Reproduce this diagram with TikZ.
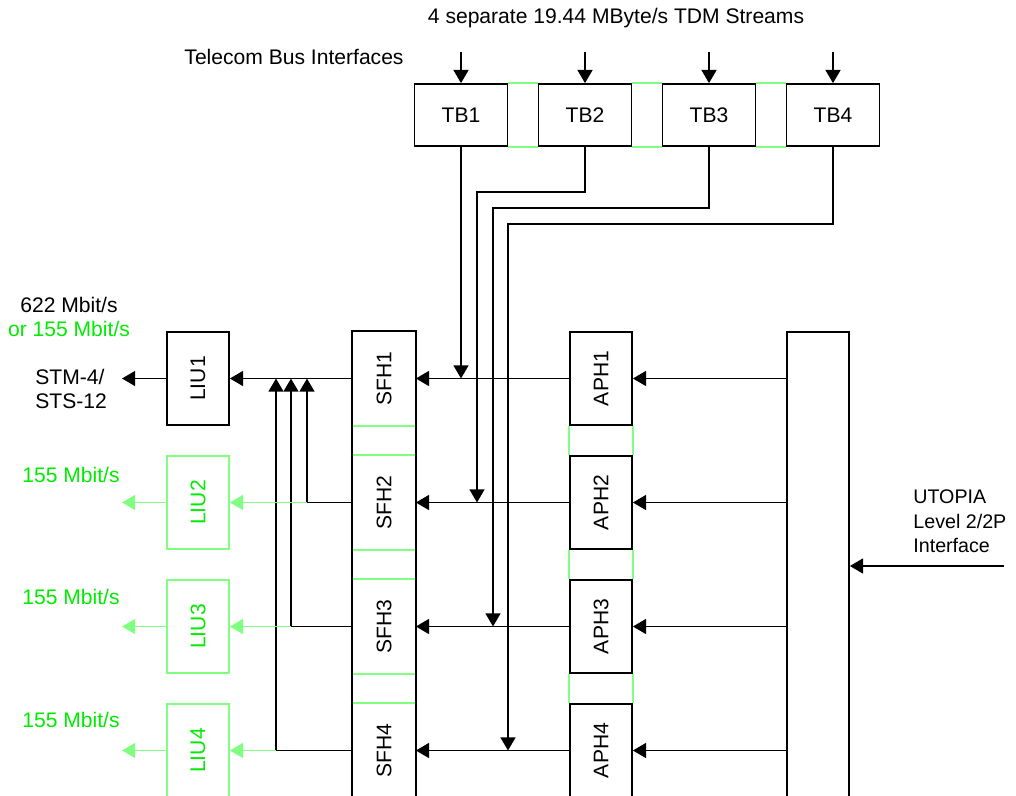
\documentclass[tikz,border=0pt]{standalone}
\usepackage{fontspec}
\setmainfont{Liberation Sans}
\usetikzlibrary{arrows.meta, positioning}
\definecolor{lgreen}{RGB}{128,255,128}
\definecolor{tgreen}{RGB}{0,235,0}

\begin{document}
\begin{tikzpicture}[
			x=0.02cm, y=-0.02cm,
			font=\fontsize{12}{14}\selectfont,
			hbox/.style={
				draw, line width=1pt, inner sep=0pt,
				minimum width=1.86cm, minimum height=1.24cm
			},
			vbox/.style={
				draw, line width=1pt, inner sep=0pt,
				minimum width=1.24cm, minimum height=1.86cm
			},
			gbox/.style={vbox, draw=lgreen, text=tgreen},
			wire/.style={line width=1pt},
			gwire/.style={line width=1pt, draw=lgreen},
			arr/.style={-{Triangle[length=7.5pt, width=8.5pt]}, line width=1pt},
			garr/.style={arr, draw=lgreen, fill=lgreen},
			]
			\useasboundingbox (0,0) rectangle (1016,795);
			
			% ── Telecom bus side ─────────────────────────────────────────────
			\node (streams) at (616, 18) {4 separate 19.44 MByte/s TDM Streams};
			\node (tbi) at (294, 57) {Telecom Bus Interfaces};
			
			\node[hbox] (tb1) at (461, 115) {TB1};
			\node[hbox] (tb2) at (585, 115) {TB2};
			\node[hbox] (tb3) at (709, 115) {TB3};
			\node[hbox] (tb4) at (833, 115) {TB4};
			
			\draw[gwire] (tb1.north east) -- (tb2.north west);
			\draw[gwire] (tb1.south east) -- (tb2.south west);
			\draw[gwire] (tb2.north east) -- (tb3.north west);
			\draw[gwire] (tb2.south east) -- (tb3.south west);
			\draw[gwire] (tb3.north east) -- (tb4.north west);
			\draw[gwire] (tb3.south east) -- (tb4.south west);
			
			\coordinate (in1) at (461, 52);
			\coordinate (in2) at (585, 52);
			\coordinate (in3) at (709, 52);
			\coordinate (in4) at (833, 52);
			\draw[arr] (in1) -- (tb1.north);
			\draw[arr] (in2) -- (tb2.north);
			\draw[arr] (in3) -- (tb3.north);
			\draw[arr] (in4) -- (tb4.north);
			
			% ── SFH column ───────────────────────────────────────────────────
			\node[vbox, draw=none] (sfh1) at (384, 378.5) {\rotatebox{90}{SFH1}};
			\node[vbox, draw=none] (sfh2) at (384, 502.5) {\rotatebox{90}{SFH2}};
			\node[vbox, draw=none] (sfh3) at (384, 626.5) {\rotatebox{90}{SFH3}};
			\node[vbox, draw=none] (sfh4) at (384, 750.5) {\rotatebox{90}{SFH4}};
			
			\draw[gwire] (sfh1.south west) -- (sfh1.south east);
			\draw[gwire] (sfh2.north west) -- (sfh2.north east);
			\draw[gwire] (sfh2.south west) -- (sfh2.south east);
			\draw[gwire] (sfh3.north west) -- (sfh3.north east);
			\draw[gwire] (sfh3.south west) -- (sfh3.south east);
			\draw[gwire] (sfh4.north west) -- (sfh4.north east);
			\draw[wire] (sfh4.south west) -- (sfh1.north west) -- (sfh1.north east) -- (sfh4.south east);
			
			% ── APH column and UTOPIA bus ────────────────────────────────────
			\node[vbox] (aph1) at (601, 378.5) {\rotatebox{90}{APH1}};
			\node[vbox] (aph2) at (601, 502.5) {\rotatebox{90}{APH2}};
			\node[vbox] (aph3) at (601, 626.5) {\rotatebox{90}{APH3}};
			\node[vbox] (aph4) at (601, 750.5) {\rotatebox{90}{APH4}};
			
			\draw[gwire] (aph1.south west) -- (aph2.north west);
			\draw[gwire] (aph1.south east) -- (aph2.north east);
			\draw[gwire] (aph2.south west) -- (aph3.north west);
			\draw[gwire] (aph2.south east) -- (aph3.north east);
			\draw[gwire] (aph3.south west) -- (aph4.north west);
			\draw[gwire] (aph3.south east) -- (aph4.north east);
			
			\node[vbox, minimum height=9.4cm] (bus) at (818, 567) {};
			
			\node[align=left, anchor=west, inner sep=0pt, font=\fontsize{11.2}{14}\selectfont]
			(utopia) at (913, 521.5) {UTOPIA\\Level 2/2P\\Interface};
			\coordinate (uin) at (1004, 566);
			\draw[arr] (uin) -- (uin -| bus.east);
			
			\draw[arr] (bus.west |- aph1.east) -- (aph1.east);
			\draw[arr] (bus.west |- aph2.east) -- (aph2.east);
			\draw[arr] (bus.west |- aph3.east) -- (aph3.east);
			\draw[arr] (bus.west |- aph4.east) -- (aph4.east);
			
			\draw[arr] (aph1.west) -- (sfh1.east);
			\draw[arr] (aph2.west) -- (sfh2.east);
			\draw[arr] (aph3.west) -- (sfh3.east);
			\draw[arr] (aph4.west) -- (sfh4.east);
			
			% ── TB drops onto the SFH lines ──────────────────────────────────
			\coordinate (k2) at (477, 192);
			\coordinate (k3) at (493, 208);
			\coordinate (k4) at (508, 224);
			
			\draw[arr] (tb1.south) -- (tb1.south |- sfh1.east);
			\draw[arr] (tb2.south) |- (k2) -- (k2 |- sfh2.east);
			\draw[arr] (tb3.south) |- (k3) -- (k3 |- sfh3.east);
			\draw[arr] (tb4.south) |- (k4) -- (k4 |- sfh4.east);
			
			% ── Line interface units ─────────────────────────────────────────
			\node[vbox] (liu1) at (198, 378.5) {\rotatebox{90}{LIU1}};
			\node[gbox] (liu2) at (198, 502.5) {\rotatebox{90}{LIU2}};
			\node[gbox] (liu3) at (198, 626.5) {\rotatebox{90}{LIU3}};
			\node[gbox] (liu4) at (198, 750.5) {\rotatebox{90}{LIU4}};
			
			\coordinate (m2) at (307, 502.5);
			\coordinate (m3) at (291, 626.5);
			\coordinate (m4) at (276, 750.5);
			
			\draw[arr] (sfh1.west) -- (liu1.east);
			\draw[wire] (sfh2.west) -- (m2);
			\draw[wire] (sfh3.west) -- (m3);
			\draw[wire] (sfh4.west) -- (m4);
			\draw[arr] (m2) -- (m2 |- sfh1.west);
			\draw[arr] (m3) -- (m3 |- sfh1.west);
			\draw[arr] (m4) -- (m4 |- sfh1.west);
			\draw[garr] (m2) -- (liu2.east);
			\draw[garr] (m3) -- (liu3.east);
			\draw[garr] (m4) -- (liu4.east);
			
			\coordinate (out1) at (122, 378.5);
			\coordinate (out2) at (122, 502.5);
			\coordinate (out3) at (122, 626.5);
			\coordinate (out4) at (122, 750.5);
			\draw[arr] (liu1.west) -- (out1);
			\draw[garr] (liu2.west) -- (out2);
			\draw[garr] (liu3.west) -- (out3);
			\draw[garr] (liu4.west) -- (out4);
			
			% ── Rates ────────────────────────────────────────────────────────
			\node[align=center] (rate1) at (69, 317)
			{622 Mbit/s\\\textcolor{tgreen}{or 155 Mbit/s}};
			\node[align=left, anchor=west, inner sep=0pt] (stm) at (35, 389) {STM-4/\\STS-12};
			\node[text=tgreen] (rate2) at (71, 475) {155 Mbit/s};
			\node[text=tgreen] (rate3) at (71, 597) {155 Mbit/s};
			\node[text=tgreen] (rate4) at (71, 720) {155 Mbit/s};
			
		\end{tikzpicture}
\end{document}
